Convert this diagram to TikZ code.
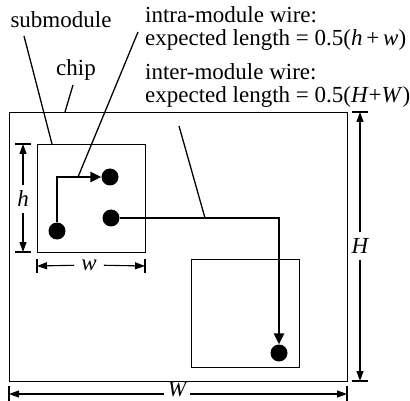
\documentclass[tikz,border=0pt]{standalone}
\usepackage{fontspec}
\setmainfont{Liberation Serif}
\usetikzlibrary{arrows.meta}
\begin{document}
\begin{tikzpicture}[x=1pt,y=-1pt,
  box/.style={draw,line width=1.3pt,inner sep=0pt,anchor=north west},
  dot/.style={circle,fill,inner sep=0pt,minimum size=17pt},
  wire/.style={line width=2.4pt,-{Triangle[length=11pt,width=10pt]}},
  lead/.style={line width=1.3pt},
  dim/.style={line width=1.1pt,-{Triangle[length=10pt,width=7pt]}},
  tick/.style={line width=1.1pt},
  lbl/.style={font=\fontsize{23}{23}\selectfont,inner sep=0pt},
  dl/.style={font=\fontsize{23}{23}\selectfont\itshape,inner sep=5pt}]
\useasboundingbox (0,0) rectangle (410,401);
% boxes
\node[box,minimum width=338pt,minimum height=269pt] (chip) at (9,112) {};
\node[box,minimum width=108pt,minimum height=108pt] (sub1) at (37,144) {};
\node[box,minimum width=108pt,minimum height=108pt] (sub2) at (191,259) {};
% dots
\node[dot] (A) at (110,177) {};
\node[dot] (B) at (57,231) {};
\node[dot] (C) at (111,218) {};
\node[dot] (D) at (279,353) {};
% wires
\draw[wire] (B) |- (A);
\draw[wire] (C) -| (D);
% labels
\node[lbl] (tsub) at (61,20) {submodule};
\node[lbl] (tchip) at (76,70) {chip};
\node[lbl,anchor=west,align=left] (tintra) at (145,29)
  {intra-module wire:\\expected length = 0.5(\textit{h}\,+\,\textit{w})};
\node[lbl,anchor=west,align=left] (tinter) at (145,86)
  {inter-module wire:\\expected length = 0.5(\textit{H}+\textit{W})};
% leader lines
\coordinate (s0) at (24,36);   \coordinate (s1) at (52,144);
\coordinate (c0) at (73,85);   \coordinate (c1) at (65,112);
\coordinate (i0) at (138,32);  \coordinate (i1) at (78,177);
\coordinate (n0) at (179,126); \coordinate (n1) at (205,218);
\draw[lead] (s0) -- (s1);
\draw[lead] (c0) -- (c1);
\draw[lead] (i0) -- (i1);
\draw[lead] (n0) -- (n1);
% dimension h
\coordinate (ht) at (23,144); \coordinate (hb) at (23,252);
\node[dl,inner sep=6pt] (hl) at (23,199) {h};
\draw[dim] (hl) -- (ht);
\draw[dim] (hl) -- (hb);
\draw[tick] (15,144) -- (31,144);
\draw[tick] (15,252) -- (31,252);
% dimension w
\coordinate (wl) at (37,266); \coordinate (wr) at (145,266);
\node[dl,inner sep=7pt] (wlab) at (89,265) {w};
\draw[dim] (wlab) -- (wl);
\draw[dim] (wlab) -- (wr);
\draw[tick] (37,259) -- (37,273);
\draw[tick] (145,259) -- (145,273);
% dimension H
\coordinate (Ht) at (360,112); \coordinate (Hb) at (360,381);
\node[dl,inner sep=6pt] (Hl) at (360,246) {H};
\draw[dim] (Hl) -- (Ht);
\draw[dim] (Hl) -- (Hb);
\draw[tick] (352,112) -- (368,112);
\draw[tick] (352,381) -- (368,381);
% dimension W
\coordinate (Wl) at (9,394); \coordinate (Wr) at (347,394);
\node[dl,font=\fontsize{22}{22}\selectfont\itshape,inner xsep=4pt,inner ysep=0pt] (Wlab) at (177,389) {W};
\draw[dim] (Wlab.west |- Wl) -- (Wl);
\draw[dim] (Wlab.east |- Wr) -- (Wr);
\draw[tick] (9,386) -- (9,401);
\draw[tick] (347,386) -- (347,401);
\end{tikzpicture}
\end{document}
